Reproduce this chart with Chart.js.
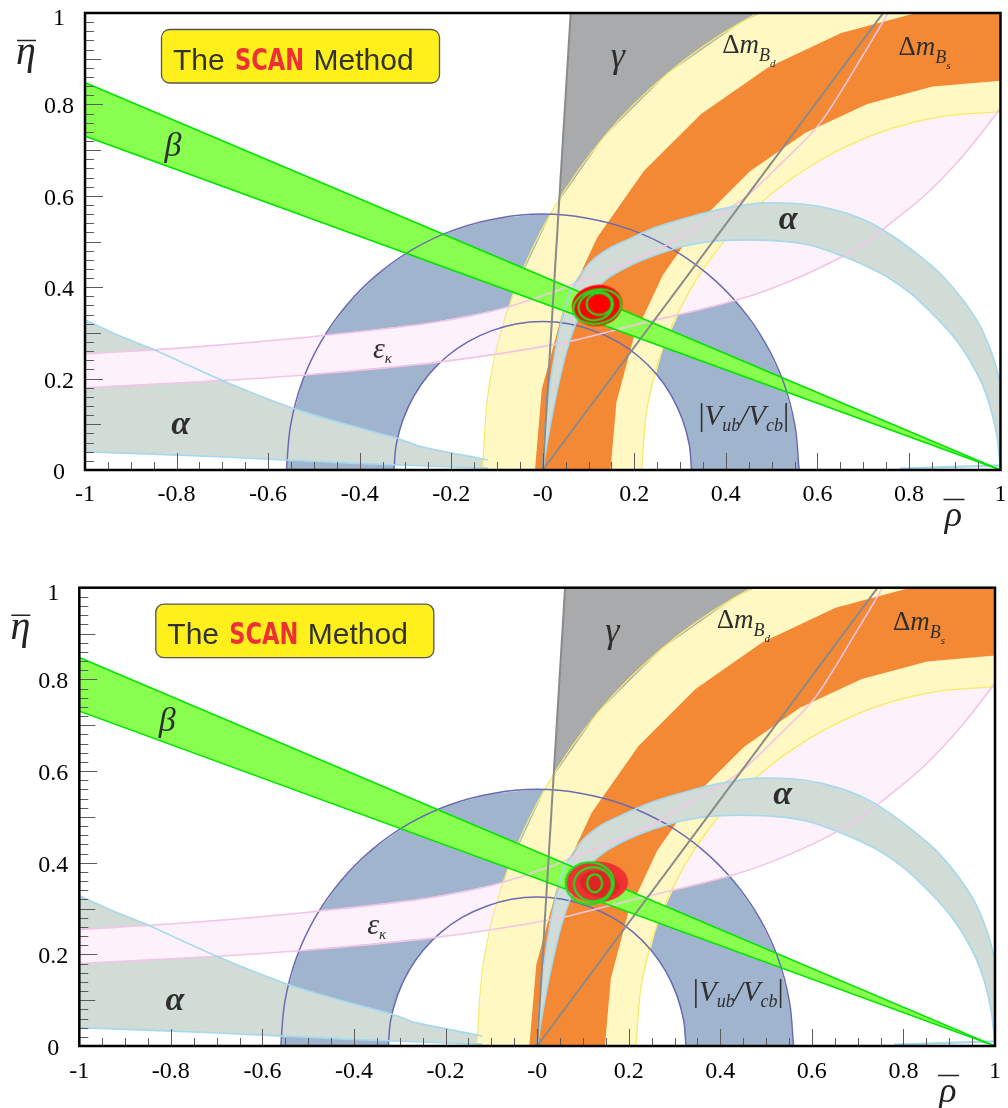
<!DOCTYPE html>
<html><head><meta charset="utf-8">
<script src="https://cdn.jsdelivr.net/npm/chart.js@4.4.1/dist/chart.umd.min.js"></script>
<style>
html,body{margin:0;padding:0;background:#fff;}
#wrap{position:relative;width:1008px;height:1108px;overflow:hidden;background:#fff;}
canvas{position:absolute;left:0;}
</style></head><body>
<div id="wrap">
<canvas id="cTop" width="1008" height="545" style="top:0px"></canvas>
<canvas id="cBot" width="1008" height="563" style="top:545px"></canvas>
</div>
<script>
// ---------------- data (rho, eta) ----------------
const xTickValues = [-1, -0.8, -0.6, -0.4, -0.2, 0, 0.2, 0.4, 0.6, 0.8, 1];
const xTickLabels = ['-1', '-0.8', '-0.6', '-0.4', '-0.2', '-0', '0.2', '0.4', '0.6', '0.8', '1'];
const yTickValues = [0, 0.2, 0.4, 0.6, 0.8, 1];
const yTickLabels = ['0', '0.2', '0.4', '0.6', '0.8', '1'];

// beta band (edges through (1,0))
const betaUpper = [[-1.05, 0.869], [1, 0]];
const betaLower = [[-1.05, 0.749], [1, 0]];

// gamma wedge from the origin
const gammaLeft = [[0, 0], [0.0671, 1.1]];
const gammaRight = [[0, 0], [0.818, 1.1]];

// |Vub/Vcb| ring edges
const vubOuter = [[-0.560,0],[-0.551,0.097],[-0.526,0.192],[-0.485,0.280],[-0.429,0.360],[-0.360,0.429],[-0.280,0.485],[-0.192,0.526],[-0.097,0.551],[0,0.560],[0.097,0.551],[0.192,0.526],[0.280,0.485],[0.360,0.429],[0.429,0.360],[0.485,0.280],[0.526,0.192],[0.551,0.097],[0.560,0]];
const vubInner = [[-0.325,0],[-0.320,0.056],[-0.305,0.111],[-0.281,0.163],[-0.249,0.209],[-0.209,0.249],[-0.163,0.281],[-0.111,0.305],[-0.056,0.320],[0,0.325],[0.056,0.320],[0.111,0.305],[0.163,0.281],[0.209,0.249],[0.249,0.209],[0.281,0.163],[0.305,0.111],[0.320,0.056],[0.325,0]];

// Delta m_Bd band edges
const dmdOuter = [[-0.132,0],[-0.115,0.197],[-0.064,0.387],[0.020,0.566],[0.133,0.728],[0.272,0.867],[0.434,0.980],[0.613,1.064],[0.803,1.115],[1,1.132]];
const dmdInner = [[0.216,0],[0.228,0.136],[0.263,0.268],[0.321,0.392],[0.399,0.504],[0.496,0.601],[0.608,0.679],[0.732,0.737],[0.864,0.772],[1,0.784]];

// Delta m_Bs band edges
const dmsOuter = [[-0.017,0],[-0.002,0.177],[0.044,0.348],[0.119,0.509],[0.221,0.654],[0.346,0.779],[0.492,0.881],[0.652,0.956],[0.823,1.002],[1,1.017]];
const dmsInner = [[0.148,0],[0.161,0.148],[0.199,0.291],[0.262,0.426],[0.347,0.548],[0.452,0.653],[0.574,0.738],[0.709,0.801],[0.852,0.839],[1,0.852]];

// epsilon_K band edges
const epsUpper = [[-1.02,0.253],[-1,0.254],[-0.75,0.27],[-0.5,0.292],[-0.25,0.321],[-0.1,0.35],[0.03,0.392],[0.088,0.416],[0.17,0.447],[0.257,0.485],[0.34,0.535],[0.435,0.591],[0.52,0.67],[0.606,0.759],[0.693,0.897],[0.76,1.01],[0.78,1.05]];
const epsLower = [[-1.02,0.179],[-1,0.18],[-0.75,0.193],[-0.52,0.208],[-0.228,0.236],[0.038,0.277],[0.2,0.317],[0.424,0.372],[0.563,0.423],[0.693,0.489],[0.76,0.54],[0.839,0.605],[0.92,0.69],[0.992,0.781],[1.05,0.86]];

// alpha: left solution region
const alphaLeftUpper = [[-1.02,0.333],[-1,0.328],[-0.93,0.296],[-0.855,0.266],[-0.78,0.232],[-0.702,0.197],[-0.62,0.163],[-0.534,0.131],[-0.43,0.1],[-0.316,0.069],[-0.265,0.051],[-0.141,0.026],[-0.12,0.022]];
const alphaLeftLower = [[-1.02,0.040],[-1,0.040],[-0.709,0.029],[-0.418,0.015],[-0.12,0.004]];
// alpha: arc solution
const alphaArcOuter = [[0,0],[0.006,0.1],[0.018,0.2],[0.035,0.3],[0.059,0.387],[0.1,0.45],[0.14,0.482],[0.183,0.503],[0.25,0.532],[0.329,0.556],[0.4,0.573],[0.475,0.584],[0.55,0.583],[0.621,0.573],[0.7,0.548],[0.766,0.511],[0.83,0.463],[0.875,0.423],[0.918,0.372],[0.956,0.314],[0.983,0.25],[1.0,0.19],[1.03,0.1]];
const alphaArcInner = [[0,0],[0.015,0.09],[0.035,0.19],[0.055,0.27],[0.08,0.34],[0.11,0.39],[0.147,0.423],[0.2,0.452],[0.256,0.474],[0.31,0.49],[0.366,0.5],[0.42,0.503],[0.475,0.503],[0.53,0.5],[0.584,0.492],[0.64,0.474],[0.694,0.452],[0.75,0.424],[0.803,0.387],[0.85,0.343],[0.897,0.292],[0.93,0.245],[0.959,0.19],[0.977,0.14],[0.992,0.075],[1.0,0.0]];
const alphaSliver = [[0.78,0.003],[1,0.01]];

// fit result (best point) for each panel
const fitTop = [[0.119, 0.360]];
const fitBottom = [[0.130, 0.358]];

// ---------------- helpers ----------------
const P = a => a.map(([x, y]) => ({x, y}));
const rev = a => a.slice().reverse();
function fillDs(pts, color) {
  return {data: P(pts), showLine: true, fill: 'shape', backgroundColor: color,
    borderColor: 'rgba(0,0,0,0)', borderWidth: 0, pointRadius: 0, pointHoverRadius: 0, tension: 0, clip: 0};
}
function lineDs(pts, color, w, tension) {
  return {data: P(pts), showLine: true, fill: false, borderColor: color, backgroundColor: color,
    borderWidth: w, pointRadius: 0, pointHoverRadius: 0, tension: tension || 0, capBezierPoints: false, clip: 0};
}

const COL = {
  beta: '#88ff4f', betaEdge: '#00e400',
  gamma: '#a9aaac', gammaEdge: '#8a8a8a',
  vub: '#a0b5cd', vubEdge: '#6b6bb2',
  dmd: '#fff8c2', dmdEdge: '#f6ea6e',
  dms: '#f38935',
  eps: '#fdf2fb', epsEdge: '#f2c4e6',
  alpha: '#d1dcd7', alphaEdge: '#a6d8ee'
};

function blob(w, h, fn) {
  const c = document.createElement('canvas');
  c.width = w; c.height = h;
  fn(c.getContext('2d'), w / 2, h / 2);
  return c;
}
const blobTop = blob(62, 52, (g, cx, cy) => {
  g.fillStyle = '#ff0000';
  g.beginPath(); g.ellipse(cx, cy, 25.5, 20.5, -0.15, 0, Math.PI * 2); g.fill();
  g.strokeStyle = '#22dd22'; g.lineWidth = 2.2;
  [[0, 1.2, 24, 17, -0.2], [-1.5, 0.5, 17.5, 14, -0.3], [2, -1.5, 12.5, 11, 0]].forEach(e => {
    g.beginPath(); g.ellipse(cx + e[0], cy + e[1], e[2], e[3], e[4], 0, Math.PI * 2); g.stroke();
  });
});
const blobBot = blob(70, 48, (g, cx, cy) => {
  g.fillStyle = '#ee3232';
  g.beginPath(); g.ellipse(cx, cy, 31.5, 20.5, 0, 0, Math.PI * 2); g.fill();
  g.fillStyle = '#e02424';
  g.beginPath(); g.ellipse(cx + 3, cy + 2, 20, 13, 0.2, 0, Math.PI * 2); g.fill();
  g.strokeStyle = '#22dd22'; g.lineWidth = 2.2;
  [[-7, 1.3, 24, 21, 0], [-3.7, 2.3, 19, 17, 0], [-2, 1.3, 7.5, 9, 0]].forEach(e => {
    g.beginPath(); g.ellipse(cx + e[0], cy + e[1], e[2], e[3], e[4], 0, Math.PI * 2); g.stroke();
  });
});

function buildDatasets(fit, sprite) {
  const bottomToTop = [
    fillDs([[0, 0], gammaLeft[1], gammaRight[1]], COL.gamma),
    fillDs(vubOuter.concat(rev(vubInner)), COL.vub),
    fillDs(alphaLeftUpper.concat(rev(alphaLeftLower)), COL.alpha),
    fillDs(epsUpper.concat([[1.1, 1.1]], rev(epsLower)), COL.eps),
    fillDs(dmdOuter.concat([[1.05, 1.132], [1.05, 0.784]], rev(dmdInner)), COL.dmd),
    lineDs(dmdOuter, COL.dmdEdge, 1.3, 0.35),
    lineDs(dmdInner, COL.dmdEdge, 1.3, 0.35),
    fillDs(dmsOuter.concat([[1.05, 1.017], [1.05, 0.852]], rev(dmsInner)), COL.dms),
    fillDs(alphaArcOuter.concat([[1.03, 0]], rev(alphaArcInner)), COL.alpha),
    fillDs([betaUpper[0], betaUpper[1], betaLower[0]], COL.beta),
    lineDs(vubOuter, COL.vubEdge, 1.5, 0.35),
    lineDs(vubInner, COL.vubEdge, 1.5, 0.35),
    lineDs(epsUpper, COL.epsEdge, 1.6, 0.3),
    lineDs(epsLower, COL.epsEdge, 1.6, 0.3),
    lineDs(alphaLeftUpper, COL.alphaEdge, 1.6, 0.2),
    lineDs(alphaLeftLower, COL.alphaEdge, 1.6, 0.2),
    lineDs(alphaArcOuter, COL.alphaEdge, 1.6, 0.3),
    lineDs(alphaArcInner, COL.alphaEdge, 1.6, 0.3),
    lineDs(alphaSliver, COL.alphaEdge, 2.2, 0),
    lineDs(gammaLeft, COL.gammaEdge, 2, 0),
    lineDs(gammaRight, COL.gammaEdge, 2, 0),
    lineDs(betaUpper, COL.betaEdge, 1.6, 0),
    lineDs(betaLower, COL.betaEdge, 1.6, 0),
    {data: P(fit), showLine: false, pointStyle: sprite, pointRadius: 20, pointHoverRadius: 20, clip: false}
  ];
  return bottomToTop.reverse(); // first dataset is drawn on top
}

// ---------------- decorations: frame, ticks, labels, texts ----------------
const INK = '#2e2e2e';
function runs(ctx, parts, x, y, align) {
  let w = 0;
  parts.forEach(p => { ctx.font = p[1]; w += ctx.measureText(p[0]).width; });
  let cx = align === 'center' ? x - w / 2 : x;
  parts.forEach(p => { ctx.font = p[1]; ctx.fillText(p[0], cx, y + (p[2] || 0)); cx += ctx.measureText(p[0]).width; });
}
const SERIF = "'Liberation Serif', 'DejaVu Serif', serif";

const decorPlugin = {
  id: 'decor',
  afterDatasetsDraw(chart, args, o) {
    const {ctx, chartArea: a} = chart;
    const X = v => chart.scales.x.getPixelForValue(v);
    const Y = v => chart.scales.y.getPixelForValue(v);
    ctx.save();
    // ticks inside the frame
    ctx.strokeStyle = '#5c5c5c'; ctx.lineWidth = 1;
    ctx.beginPath();
    for (let k = 1; k < 50; k++) {
      const yy = Math.round(Y(k * 0.02)) + 0.5;
      const len = k % 10 === 0 ? 18 : (k % 5 === 0 ? 16 : 9);
      ctx.moveTo(a.left, yy); ctx.lineTo(a.left + len, yy);
    }
    for (let j = 1; j < 40; j++) {
      const xx = Math.round(X(-1 + j * 0.05)) + 0.5;
      const len = j % 4 === 0 ? 17 : 8;
      ctx.moveTo(xx, a.bottom); ctx.lineTo(xx, a.bottom - len);
    }
    ctx.stroke();
    // frame
    ctx.strokeStyle = '#000'; ctx.lineWidth = 2.5;
    ctx.strokeRect(a.left, a.top, a.right - a.left, a.bottom - a.top);
    // tick labels
    ctx.fillStyle = '#000'; ctx.textAlign = 'center'; ctx.textBaseline = 'alphabetic';
    ctx.font = '24px ' + SERIF;
    xTickValues.forEach((v, i) => ctx.fillText(xTickLabels[i], X(v), a.bottom + o.xLab + 8));
    yTickValues.forEach((v, i) => ctx.fillText(yTickLabels[i], a.left + o.yLab, Y(v) + 8 + (v === 1 ? 4 : 1)));
    // axis titles with bars
    ctx.fillStyle = '#222';
    ctx.font = 'italic 40px ' + SERIF;
    ctx.fillText('\u03B7', a.left - 59, a.top + 51);
    ctx.font = 'italic 36px ' + SERIF;
    ctx.fillText('\u03C1', a.right - 47, a.bottom + 56);
    ctx.strokeStyle = '#222'; ctx.lineWidth = 1.5;
    ctx.beginPath();
    ctx.moveTo(a.left - 68, a.top + 27.5); ctx.lineTo(a.left - 49, a.top + 27.5);
    ctx.moveTo(a.right - 57, a.bottom + 29.5); ctx.lineTo(a.right - 36, a.bottom + 29.5);
    ctx.stroke();
    // constraint labels
    ctx.fillStyle = INK; ctx.textAlign = 'left'; ctx.textBaseline = 'middle';
    runs(ctx, [['\u03B3', 'italic 36px ' + SERIF]], X(0.164), Y(0.902), 'center');
    runs(ctx, [['\u03B2', 'italic 34px ' + SERIF]], X(-0.808), Y(0.707), 'center');
    runs(ctx, [['\u03B1', 'italic bold 34px ' + SERIF]], X(-0.791), Y(0.098), 'center');
    runs(ctx, [['\u03B1', 'italic bold 34px ' + SERIF]], X(0.536), Y(0.547), 'center');
    ctx.textBaseline = 'alphabetic';
    runs(ctx, [['\u0394', '27px ' + SERIF], ['m', 'italic 27px ' + SERIF], ['B', 'italic 18px ' + SERIF, 8], ['d', 'italic 11px ' + SERIF, 14]], X(0.392), Y(0.912));
    runs(ctx, [['\u0394', '27px ' + SERIF], ['m', 'italic 27px ' + SERIF], ['B', 'italic 18px ' + SERIF, 8], ['s', 'italic 11px ' + SERIF, 14]], X(0.777), Y(0.908));
    runs(ctx, [['\u03B5', 'italic 30px ' + SERIF], ['\u03BA', 'italic 15px ' + SERIF, 5]], X(-0.371), Y(0.245));
    runs(ctx, [['|', '31px ' + SERIF], ['V', 'italic 29px ' + SERIF], ['ub', 'italic 18px ' + SERIF, 6], ['/', 'italic 29px ' + SERIF], ['V', 'italic 29px ' + SERIF], ['cb', 'italic 18px ' + SERIF, 6], ['|', '31px ' + SERIF]], X(0.340), Y(0.098));
    // "The SCAN Method" box
    const bx = a.left + 76.5, by = a.top + 16.5, bw = 278, bh = 53.5;
    ctx.beginPath(); ctx.roundRect(bx, by, bw, bh, 8);
    ctx.fillStyle = '#fff01c'; ctx.fill();
    ctx.strokeStyle = '#555'; ctx.lineWidth = 1.3; ctx.stroke();
    ctx.textBaseline = 'alphabetic'; ctx.textAlign = 'left';
    ctx.fillStyle = '#333';
    ctx.font = "30px 'Liberation Sans', 'DejaVu Sans', sans-serif";
    ctx.fillText('The', bx + 11.5, by + 40);
    ctx.fillText('Method', bx + 152, by + 40);
    ctx.font = "bold 31px 'DejaVu Sans', sans-serif";
    const sw = ctx.measureText('SCAN').width;
    ctx.save(); ctx.translate(bx + 73.5, by + 40); ctx.scale(69 / sw, 1);
    ctx.fillStyle = '#ee3036'; ctx.fillText('SCAN', 0, 0);
    ctx.restore();
    ctx.restore();
  }
};

function makeChart(id, pad, fit, sprite, deco) {
  return new Chart(document.getElementById(id), {
    type: 'scatter',
    data: {datasets: buildDatasets(fit, sprite)},
    options: {
      responsive: false, animation: false, devicePixelRatio: 1, events: [],
      layout: {padding: pad, autoPadding: false},
      scales: {
        x: {type: 'linear', min: -1, max: 1, display: false},
        y: {type: 'linear', min: 0, max: 1, display: false}
      },
      plugins: {legend: {display: false}, tooltip: {enabled: false}, decor: deco}
    },
    plugins: [decorPlugin]
  });
}

makeChart('cTop', {left: 85, top: 13, right: 7.5, bottom: 75}, fitTop, blobTop, {xLab: 23, yLab: -26});
makeChart('cBot', {left: 79.3, top: 42.7, right: 13, bottom: 62}, fitBottom, blobBot, {xLab: 24, yLab: -26});
</script>
</body></html>
